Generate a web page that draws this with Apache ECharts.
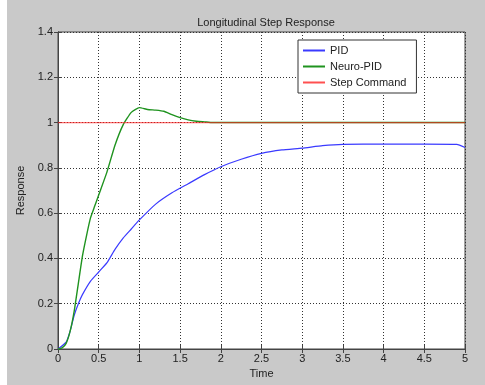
<!DOCTYPE html>
<html>
<head>
<meta charset="utf-8">
<script src="https://cdn.jsdelivr.net/npm/echarts@6/dist/echarts.min.js"></script>
<style>
  html, body { margin: 0; padding: 0; width: 485px; height: 385px; background: #c9c9c9; overflow: hidden; }
  #strip { position: absolute; left: 0; top: 0; width: 7px; height: 385px; background: #ffffff; }
  #chart { position: absolute; left: 0; top: 0; width: 485px; height: 385px; }
</style>
</head>
<body>
<div id="strip"></div>
<div id="chart"></div>
<script>
const titleText = 'Longitudinal Step Response';
const xName = 'Time';
const yName = 'Response';
const seriesNames = ['PID', 'Neuro-PID', 'Step Command'];

const pidTime = [0, 0.1, 0.15, 0.2, 0.25, 0.3, 0.4, 0.5, 0.6, 0.7, 0.8, 0.9, 1.0, 1.2, 1.4, 1.6, 1.8, 2.0, 2.25, 2.5, 2.75, 3.0, 3.25, 3.5, 4.0, 4.5, 4.9, 5.0];
const pidValue = [0, 0.03, 0.08, 0.15, 0.2, 0.24, 0.3, 0.34, 0.38, 0.44, 0.49, 0.53, 0.57, 0.64, 0.69, 0.73, 0.77, 0.805, 0.838, 0.864, 0.879, 0.887, 0.898, 0.904, 0.905, 0.905, 0.904, 0.89];

const neuroTime = [0, 0.05, 0.1, 0.15, 0.2, 0.25, 0.3, 0.35, 0.4, 0.45, 0.5, 0.6, 0.7, 0.8, 0.9, 1.0, 1.1, 1.2, 1.3, 1.4, 1.5, 1.6, 1.7, 1.8, 1.9, 2.5, 3.0, 4.0, 5.0];
const neuroValue = [0, 0.005, 0.025, 0.08, 0.17, 0.29, 0.41, 0.5, 0.58, 0.63, 0.68, 0.78, 0.9, 0.99, 1.045, 1.066, 1.058, 1.055, 1.05, 1.035, 1.022, 1.012, 1.006, 1.003, 1.0, 1.0, 1.0, 1.0, 1.0];

const stepTime = [0, 5];
const stepValue = [1, 1];

const font = '"Liberation Sans", Arial, sans-serif';

function pairs(xs, ys) { return xs.map((x, i) => [x, ys[i]]); }

const chart = echarts.init(document.getElementById('chart'), null, { renderer: 'canvas' });
const labelStyle = { color: '#222', fontSize: 11, fontFamily: font };
const split = { show: true, lineStyle: { color: '#333', type: [1, 2], width: 1 } };

chart.setOption({
  animation: false,
  backgroundColor: 'transparent',
  title: {
    text: titleText,
    left: 261, top: 12, textAlign: 'center',
    textStyle: { color: '#222', fontSize: 11, fontWeight: 'normal', fontFamily: font }
  },
  grid: { left: 58, right: 20, top: 32, bottom: 36, show: true, backgroundColor: '#fff', borderColor: '#444', borderWidth: 1 },
  legend: {
    orient: 'vertical', left: 298, top: 40,
    data: seriesNames,
    backgroundColor: '#fff', borderColor: '#333', borderWidth: 1,
    padding: [4, 10, 4, 5], itemGap: 3,
    itemWidth: 22, itemHeight: 2, icon: 'rect',
    textStyle: { color: '#222', fontSize: 11, fontFamily: font, lineHeight: 13 }
  },
  xAxis: [{
    type: 'value', min: 0, max: 5, interval: 0.5,
    name: xName, nameLocation: 'middle', nameGap: 19,
    nameTextStyle: { color: '#222', fontSize: 11, fontFamily: font },
    axisLine: { show: true, lineStyle: { color: '#444' } },
    axisTick: { show: true, inside: true, length: 4, lineStyle: { color: '#444' } },
    axisLabel: Object.assign({ margin: 4 }, labelStyle),
    splitLine: split
  }, {
    type: 'value', min: 0, max: 5, interval: 0.5, position: 'top',
    axisLine: { show: true, lineStyle: { color: '#444' } },
    axisTick: { show: true, inside: true, length: 4, lineStyle: { color: '#444' } },
    axisLabel: { show: false }, splitLine: { show: false }
  }],
  yAxis: [{
    type: 'value', min: 0, max: 1.4, interval: 0.2,
    name: yName, nameLocation: 'middle', nameGap: 31,
    nameTextStyle: { color: '#222', fontSize: 11, fontFamily: font },
    axisLine: { show: true, lineStyle: { color: '#444' } },
    axisTick: { show: true, inside: true, length: 4, lineStyle: { color: '#444' } },
    axisLabel: Object.assign({ margin: 5 }, labelStyle),
    splitLine: split
  }, {
    type: 'value', min: 0, max: 1.4, interval: 0.2, position: 'right',
    axisLine: { show: true, lineStyle: { color: '#444' } },
    axisTick: { show: true, inside: true, length: 4, lineStyle: { color: '#444' } },
    axisLabel: { show: false }, splitLine: { show: false }
  }],
  series: [
    { name: seriesNames[0], type: 'line', data: pairs(pidTime, pidValue), smooth: 0.15, symbol: 'none',
      color: '#3a3aff', lineStyle: { width: 1.2, color: '#3a3aff' } },
    { name: seriesNames[1], type: 'line', data: pairs(neuroTime, neuroValue), smooth: 0.15, symbol: 'none',
      color: '#1f931f', lineStyle: { width: 1.4, color: '#1f931f' } },
    { name: seriesNames[2], type: 'line', data: pairs(stepTime, stepValue), symbol: 'none',
      color: '#ff5050', lineStyle: { width: 1.3, color: '#ff2020', opacity: 0.65 } }
  ]
});
</script>
</body>
</html>
